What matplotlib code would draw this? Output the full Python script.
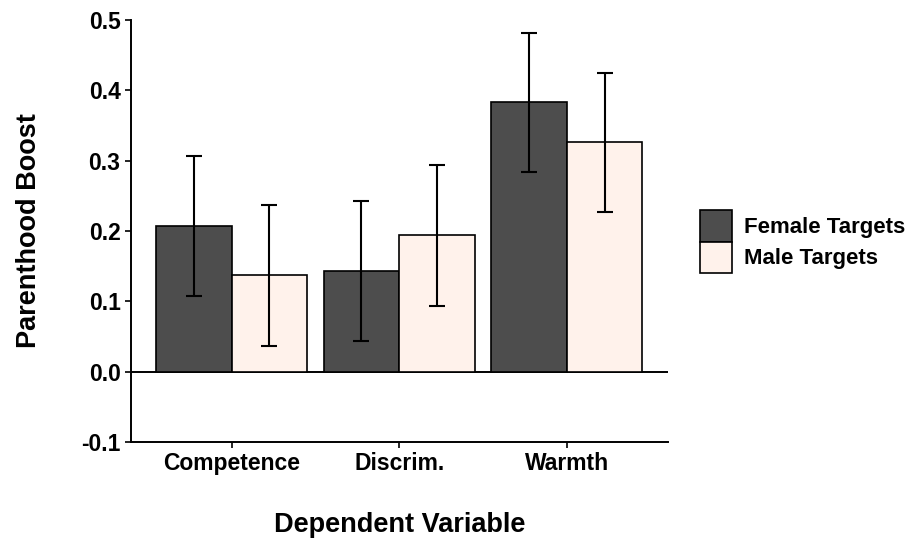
import numpy as np
import matplotlib.pyplot as plt

# data
categories = ['Competence', 'Discrim.', 'Warmth']
female = [0.207, 0.143, 0.383]
male = [0.137, 0.194, 0.326]
female_err = [0.100, 0.100, 0.099]
male_err = [0.100, 0.100, 0.099]
series_labels = ['Female Targets', 'Male Targets']

plt.rcParams['font.family'] = ['Liberation Sans', 'DejaVu Sans']
plt.rcParams['font.weight'] = 'bold'

fig = plt.figure(figsize=(9.22, 5.41), dpi=100)
ax = fig.add_axes([0.142, 0.183, 0.582, 0.780])

x = np.arange(1, len(categories) + 1)
w = 0.45
err_kw = dict(ecolor='black', elinewidth=1.5, capsize=5.5, capthick=1.5)
ax.bar(x - w / 2, female, w, yerr=female_err, color='#4d4d4d',
       edgecolor='black', linewidth=1.2, label=series_labels[0], error_kw=err_kw)
ax.bar(x + w / 2, male, w, yerr=male_err, color='#fff2eb',
       edgecolor='black', linewidth=1.2, label=series_labels[1], error_kw=err_kw)
ax.axhline(0, color='black', linewidth=1.4, zorder=0.5)

ax.set_xlim(0.4, 3.6)
ax.set_ylim(-0.1, 0.5)
yt = [-0.1, 0.0, 0.1, 0.2, 0.3, 0.4, 0.5]
ax.set_yticks(yt)
ax.set_yticklabels([f'{v:.1f}' for v in yt])
ax.set_xticks(x)
ax.set_xticklabels(categories)
ax.tick_params(labelsize=16.5, width=1.2, length=4, colors='black')
for lab in ax.get_xticklabels() + ax.get_yticklabels():
    lab.set_fontweight('bold')

for s in ['top', 'right']:
    ax.spines[s].set_visible(False)
for s in ['left', 'bottom']:
    ax.spines[s].set_linewidth(1.4)

ax.set_ylabel('Parenthood Boost', fontsize=19.5, fontweight='bold', labelpad=28)
ax.set_xlabel('Dependent Variable', fontsize=19.5, fontweight='bold', labelpad=26)

leg = ax.legend(loc='center left', bbox_to_anchor=(1.06, 0.475), frameon=False,
                fontsize=16, handlelength=1.45, handleheight=1.8,
                handletextpad=0.55, labelspacing=0.0, borderpad=0,
                borderaxespad=0)
for t in leg.get_texts():
    t.set_fontweight('bold')

fig.savefig('out.png', dpi=100)
